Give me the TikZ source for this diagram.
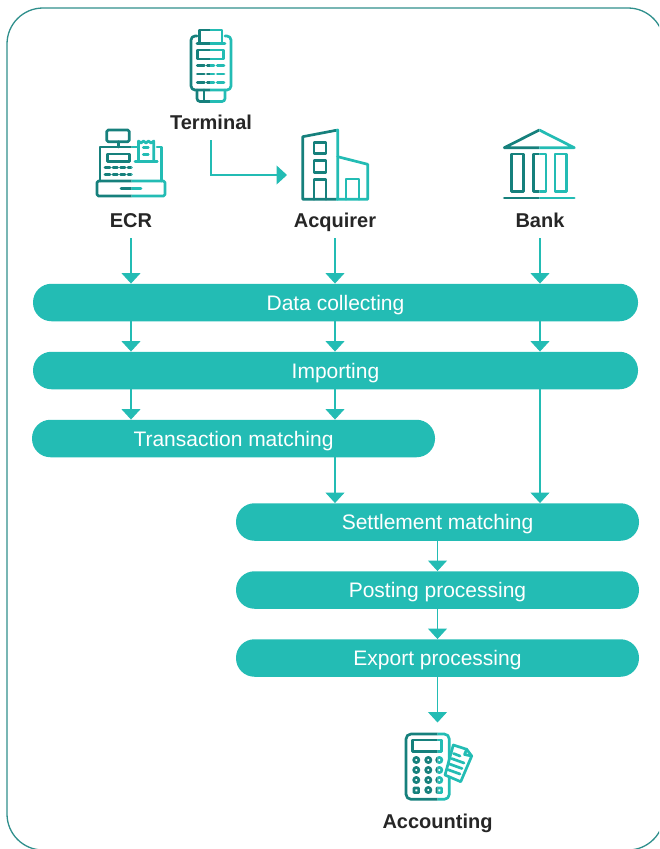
\documentclass[tikz,border=0pt]{standalone}
\usepackage{fontspec}
\setmainfont{Liberation Sans}
\usetikzlibrary{arrows.meta}
\definecolor{tealfill}{HTML}{23BCB4}
\definecolor{tealdark}{HTML}{16807C}
\definecolor{framecol}{HTML}{2F8F8C}
\tikzset{
  pillbar/.style={fill=tealfill,text=white,rounded corners=18.5pt,minimum height=37.5pt,inner sep=0pt,text height=15pt,text depth=0pt,font=\fontsize{21}{22}\selectfont},
  iconlabel/.style={text=black!85,minimum height=36pt,inner sep=0pt,text height=14pt,text depth=0pt,font=\fontsize{20}{22}\selectfont\bfseries},
  flowarrow/.style={draw=tealfill,line width=1.1pt,-{Triangle[width=19pt,length=10.5pt]}},
  iconline/.style={line width=2.7pt,line cap=round,line join=round}
}
\newcommand{\twotone}[2]% split x, icon macro
{\begin{scope}
  \clip (0,0) rectangle (#1,849);
  \begin{scope}[color=tealdark,iconline] #2 \end{scope}
 \end{scope}
 \begin{scope}
  \clip (#1,0) rectangle (659,849);
  \begin{scope}[color=tealfill,iconline] #2 \end{scope}
 \end{scope}
}
\newcommand{\terminalicon}
{\draw[rounded corners=4pt] (197,36) -- (191,36) -- (191,90) -- (231,90) -- (231,36) -- (225,36);
 \draw (199.5,43.5) -- (199.5,30) -- (222,30) -- (222,43.5);
 \draw (197,43.5) -- (225,43.5);
 \draw (197.7,50) rectangle (223.3,59);
 \draw (197.3,65.7) -- (204.3,65.7) (207.3,65.7) -- (214,65.7) (217.3,65.7) -- (224,65.7);
 \draw (197.3,74) -- (204.3,74) (207.3,74) -- (214,74) (217.3,74) -- (224,74);
 \draw (197.3,82.3) -- (204.3,82.3) (207.3,82.3) -- (214,82.3) (217.3,82.3) -- (224,82.3);
 \draw[rounded corners=3pt] (197,90) -- (197,101.5) -- (225,101.5) -- (225,90);
 \draw (204,90) -- (204,101.5);
}
\newcommand{\ecricon}
{\draw[rounded corners=1.5pt] (106.7,130) rectangle (129.3,141.7);
 \draw (118.3,141.7) -- (118.3,147);
 \draw (100,181) -- (100,147) -- (137,147);
 \draw (157,147) -- (161.7,147) -- (161.7,181);
 \draw (138.5,161) -- (138.5,141) -- (141,143) -- (143.5,141) -- (146,143) -- (148.5,141) -- (151,143) -- (153.8,141) -- (153.8,161);
 \draw (135,161.3) -- (157.3,161.3);
 \draw (143.3,147.7) -- (148.3,147.7) (143.3,154.3) -- (148.3,154.3);
 \draw (107.3,154) rectangle (129.3,161.7);
 \draw (105,167.7) -- (110,167.7) (113,167.7) -- (117.5,167.7) (120.5,167.7) -- (125,167.7) (128,167.7) -- (131.5,167.7);
 \draw (105,174.7) -- (110,174.7) (113,174.7) -- (117.5,174.7) (120.5,174.7) -- (125,174.7) (128,174.7) -- (131.5,174.7);
 \draw[rounded corners=1.5pt] (97,181) rectangle (165,196);
 \draw (121,188.3) -- (141,188.3);
}
\newcommand{\acquirericon}
{\draw (337.7,199.3) -- (302.7,199.3) -- (302.7,136.7) -- (337.7,130) -- (337.7,199.3);
 \draw (314,142.7) rectangle (326,153.3);
 \draw (314,160.7) rectangle (326,172.3);
 \draw (314,199.3) -- (314,179.3) -- (326,179.3) -- (326,199.3);
 \draw (337.7,156.7) -- (367.7,164.3) -- (367.7,199.3) -- (337.7,199.3);
 \draw (346,199.3) -- (346,179) -- (359,179) -- (359,199.3);
}
\newcommand{\bankicon}
{\draw (504.3,147.7) -- (539.3,130) -- (574.3,147.7) -- cycle;
 \draw (511.7,154) rectangle (523.3,191.7);
 \draw (533.3,154) rectangle (546,191.7);
 \draw (555,154) rectangle (566.7,191.7);
 \draw (504.3,198) -- (574.3,198);
}
\newcommand{\accountingicon}
{\draw[rounded corners=5pt] (406,734) rectangle (449.3,799.3);
 \draw (412.7,740) rectangle (441.7,751.7);
 \draw (416.3,760) circle (2.6) (428.3,760) circle (2.6) (439.3,760) circle (2.6);
 \draw (416.3,770) circle (2.6) (428.3,770) circle (2.6) (439.3,770) circle (2.6);
 \draw (416.3,780) circle (2.6) (428.3,780) circle (2.6) (439.3,780) circle (2.6);
 \draw (414,788) rectangle (418.6,792.6) (428.3,790) circle (2.6) (437,788) rectangle (441.6,792.6);
 \draw[fill=white] (453.3,745) -- (466.7,749.3) -- (471.7,756) -- (460.7,781.7) -- (445,775) -- cycle;
 \draw (466.7,749.3) -- (464.5,754.5) -- (471.7,756);
 \draw (453.5,753.5) -- (460,756) (451.5,758.5) -- (464,763) (449.5,764) -- (462,768.5) (447.5,769.5) -- (460,774);
}

\begin{document}
\begin{tikzpicture}[x=1pt,y=-1pt]
  \useasboundingbox (0,0) rectangle (659,849);
  \begin{scope}
    \clip (0,0) rectangle (659,849);
    \draw[framecol,line width=1.3pt,rounded corners=36pt] (7,8) rectangle (664,850);
  \end{scope}
  % icons
  \twotone{210}{\terminalicon}
  \twotone{131.7}{\ecricon}
  \twotone{336}{\acquirericon}
  \twotone{539.3}{\bankicon}
  \twotone{437.7}{\accountingicon}
  % labels
  \node[iconlabel] (terminal) at (211,122) {Terminal};
  \node[iconlabel] (ecr) at (131,220) {ECR};
  \node[iconlabel] (acquirer) at (335,220) {Acquirer};
  \node[iconlabel] (bank) at (540,220) {Bank};
  \node[iconlabel] (accounting) at (437.5,821) {Accounting};
  \coordinate (acquirerin) at (287,175);
  \coordinate (accountingin) at (437.5,722.5);
  % process bars
  \node[pillbar,minimum width=605pt] (collecting) at (335.5,302.5) {Data collecting};
  \node[pillbar,minimum width=605pt] (importing) at (335.5,370.5) {Importing};
  \node[pillbar,minimum width=403pt] (transaction) at (233.5,438.5) {Transaction matching};
  \node[pillbar,minimum width=403pt] (settlement) at (437.5,522) {Settlement matching};
  \node[pillbar,minimum width=403pt] (posting) at (437.5,590) {Posting processing};
  \node[pillbar,minimum width=403pt] (export) at (437.5,658) {Export processing};
  % connectors
  \draw[flowarrow] (terminal.south) |- (acquirerin);
  \draw[flowarrow] (ecr.south) -- (ecr |- collecting.north);
  \draw[flowarrow] (acquirer.south) -- (acquirer |- collecting.north);
  \draw[flowarrow] (bank.south) -- (bank |- collecting.north);
  \draw[flowarrow] (ecr |- collecting.south) -- (ecr |- importing.north);
  \draw[flowarrow] (acquirer |- collecting.south) -- (acquirer |- importing.north);
  \draw[flowarrow] (bank |- collecting.south) -- (bank |- importing.north);
  \draw[flowarrow] (ecr |- importing.south) -- (ecr |- transaction.north);
  \draw[flowarrow] (acquirer |- importing.south) -- (acquirer |- transaction.north);
  \draw[flowarrow] (acquirer |- transaction.south) -- (acquirer |- settlement.north);
  \draw[flowarrow] (bank |- importing.south) -- (bank |- settlement.north);
  \draw[flowarrow] (settlement.south) -- (posting.north);
  \draw[flowarrow] (posting.south) -- (export.north);
  \draw[flowarrow] (export.south) -- (accountingin);
\end{tikzpicture}
\end{document}
